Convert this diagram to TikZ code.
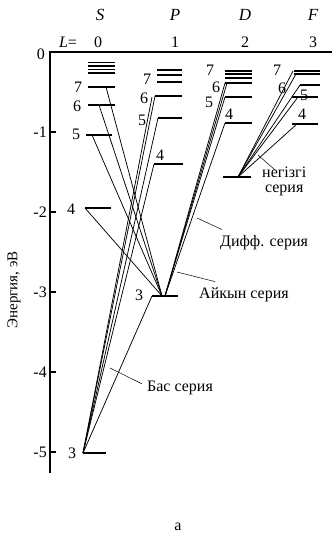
\documentclass[tikz,border=0pt]{standalone}
\usepackage{fontspec}
\setmainfont{Liberation Serif}
\usetikzlibrary{positioning}
\tikzset{lev/.style={line width=1.2pt},
 tr/.style={line width=.75pt},
 lead/.style={line width=.5pt},
 num/.style={font=\fontsize{16}{16}\selectfont,inner sep=0pt},
 txt/.style={font=\fontsize{16}{15}\selectfont,inner sep=0pt,align=center},
 hd/.style={font=\fontsize{17}{18}\selectfont\itshape,inner sep=0pt}}

\begin{document}
\begin{tikzpicture}[x=1pt,y=-1pt]
\useasboundingbox (0,0) rectangle (332,540);
% axis
\coordinate (ot) at (50,52);
\coordinate (ob) at (50,473);
\coordinate (or) at (332,52);
\draw[lev] (ob) -- (ot) -- (or);
\node[num,anchor=east] (t0) at (45,54) {0};
\foreach \e in {1,...,5} {
 \draw[lev] (50,52+80*\e) -- ++(6,0);
 \node[num,anchor=east] (t\e) at (47,52+80*\e) {-\e};
}
\node[txt,rotate=90,font=\fontsize{15}{15}\selectfont] (en) at (14,290) {Энергия, эВ};
% header
\node[hd] (hs) at (100,15) {S};
\node[hd] (hp) at (175,15) {P};
\node[hd] (hdd) at (245,15) {D};
\node[hd] (hf) at (313,15) {F};
\node[num] (hl) at (68,42) {\textit{L}=};
\node[num] (l0) at (98,42) {0};
\node[num] (l1) at (175,42) {1};
\node[num] (l2) at (245,42) {2};
\node[num] (l3) at (313,42) {3};
% S levels
\foreach \y in {62.5,66,69.5,73} \draw[lev] (88,\y) -- (115,\y);
\draw[lev] (88,87) -- (115,87);
\draw[lev] (88,105) -- (115,105);
\draw[lev] (86,135) -- (112,135);
\draw[lev] (85,208) -- (111,208);
\draw[lev] (83,453) -- (106,453);
\node[num] (ns7) at (78,87) {7};
\node[num] (ns6) at (77,106) {6};
\node[num] (ns5) at (76,134) {5};
\node[num] (ns4) at (71,209) {4};
\node[num] (ns3) at (72,453) {3};
% P levels
\foreach \y in {70,75,82} \draw[lev] (157,\y) -- (182,\y);
\draw[lev] (155,96) -- (182,96);
\draw[lev] (158,118) -- (182,118);
\draw[lev] (154,164) -- (183,164);
\draw[lev] (152,296) -- (178,296);
\node[num] (np7) at (147,79) {7};
\node[num] (np6) at (144,98) {6};
\node[num] (np5) at (142,120) {5};
\node[num] (np4) at (160,155) {4};
\node[num] (np3) at (139,295) {3};
% D levels
\foreach \y in {71,74,78,83} \draw[lev] (225,\y) -- (252,\y);
\draw[lev] (225,97) -- (252,97);
\draw[lev] (225,123) -- (252,123);
\draw[lev] (223,177) -- (251,177);
\node[num] (nd7) at (210,70) {7};
\node[num] (nd6) at (216,87) {6};
\node[num] (nd5) at (209,102) {5};
\node[num] (nd4) at (229,114) {4};
% F levels
\foreach \y in {71,74} \draw[lev] (294,\y) -- (320,\y);
\draw[lev] (300,85) -- (320,85);
\draw[lev] (292,97) -- (318,97);
\draw[lev] (292,124) -- (318,124);
\node[num] (nf7) at (277,70) {7};
\node[num] (nf6) at (282,88) {6};
\node[num] (nf5) at (304,95) {5};
\node[num] (nf4) at (302,114) {4};
% transition ends
\coordinate (s3) at (83,453);
\coordinate (s4) at (85,208);
\coordinate (s5) at (92,135);
\coordinate (s6) at (99,105);
\coordinate (s7) at (106,87);
\coordinate (p3) at (152,296);
\coordinate (p3s) at (162,296);
\coordinate (p3d) at (165,296);
\coordinate (p4) at (154,164);
\coordinate (p5) at (158,118);
\coordinate (p6) at (155,96);
\coordinate (p6b) at (152,97);
\coordinate (d3) at (238,177);
\coordinate (d4) at (225,123);
\coordinate (d5) at (225,97);
\coordinate (d6) at (225,83);
\coordinate (d6b) at (227,83);
\coordinate (f4) at (297,124);
\coordinate (f5) at (298,97);
\coordinate (f6) at (300,85);
\coordinate (f7) at (293,71);
\coordinate (f7b) at (296,74);
% series
\foreach \t in {p3,p4,p5,p6,p6b} \draw[tr] (s3) -- (\t);
\foreach \t in {s4,s5,s6,s7} \draw[tr] (p3s) -- (\t);
\foreach \t in {d4,d5,d6,d6b} \draw[tr] (p3d) -- (\t);
\foreach \t in {f4,f5,f6,f7,f7b} \draw[tr] (d3) -- (\t);
% labels
\node[txt,anchor=west] (bas) at (147,388) {Бас серия};
\node[txt,anchor=west] (ayk) at (199,295) {Айкын серия};
\node[txt,anchor=west] (dif) at (220,243) {Дифф. серия};
\node[txt,anchor=north west] (neg) at (262,167) {негізгі\\серия};
\coordinate (bl) at (110,368);
\coordinate (al) at (177,272);
\coordinate (dl) at (197,218);
\coordinate (nl) at (258,155);
\draw[lead] (bl) -- ([shift={(-5,3)}]bas.north west);
\draw[lead] (al) -- ([shift={(16,-6)}]ayk.north west);
\draw[lead] (dl) -- ([shift={(2,-6)}]dif.north west);
\draw[lead] (nl) -- ([shift={(13,3)}]neg.north west);
\node[txt] (cap) at (178,527) {а};
\end{tikzpicture}
\end{document}
